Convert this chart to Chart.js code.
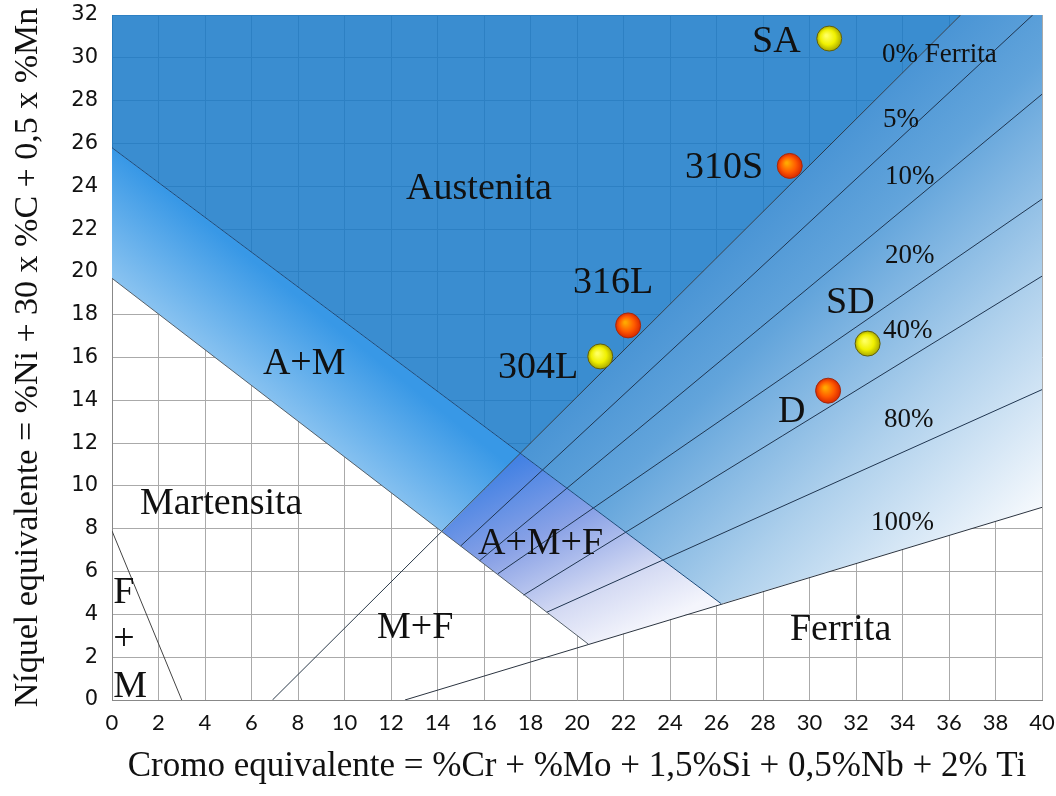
<!DOCTYPE html>
<html>
<head>
<meta charset="utf-8">
<script src="https://cdn.jsdelivr.net/npm/chart.js@4.4.1/dist/chart.umd.min.js"></script>
<style>
  html, body { margin: 0; padding: 0; background: #fff; }
  #wrap { width: 1056px; height: 796px; }
</style>
</head>
<body>
<div id="wrap"><canvas id="myChart" width="1056" height="796"></canvas></div>
<script>
// alloys placed on the diagram
var alloyNames = ['SA', '310S', '316L', '304L', 'SD', 'D'];
var alloyCr = [30.85, 29.15, 22.2, 21.0, 32.5, 30.8];
var alloyNi = [30.9, 24.95, 17.5, 16.05, 16.65, 14.45];
var alloyKind = ['y', 'r', 'r', 'y', 'y', 'r'];

// phase boundaries (Cr eq, Ni eq)
var lineA = [[0, 25.8], [26.2, 4.5]];
var lineM = [[0, 19.7], [20.5, 2.6]];
var lineFM = [[0, 7.9], [3.0, 0]];
var line0 = [[6.9, 0], [36.5, 32]];
var line5 = [[15.0, 7.2], [39.6, 32]];
var line10 = [[15.8, 6.5], [40, 28.3]];
var line20 = [[16.6, 5.9], [40, 23.4]];
var line40 = [[17.7, 4.9], [40, 19.8]];
var line80 = [[18.7, 4.1], [40, 14.5]];
var line100 = [[12.6, 0], [40, 9]];

// zones
var zoneA = [[0, 32], [36.5, 32], [17.56, 11.52], [0, 25.8]];
var zoneAM = [[0, 25.8], [17.56, 11.52], [14.2, 7.85], [0, 19.7]];
var zoneAF = [[17.56, 11.52], [36.5, 32], [40, 32], [40, 9], [26.2, 4.5]];
var zoneAMF = [[14.2, 7.85], [17.56, 11.52], [26.2, 4.5], [20.5, 2.6]];

// text on the diagram: text, x, y (baseline), size
var zoneLabels = [
  ['Austenita', 12.65, 23.41, 38],
  ['A+M', 6.49, 15.23, 38],
  ['Martensita', 1.2, 8.69, 38],
  ['A+M+F', 15.74, 6.82, 38],
  ['M+F', 11.4, 2.9, 38],
  ['Ferrita', 29.16, 2.8, 38],
  ['F', 0.05, 4.53, 38],
  ['+', 0.05, 2.34, 38],
  ['M', 0.05, 0.14, 38],
  ['0% Ferrita', 33.12, 29.81, 27],
  ['5%', 33.16, 26.78, 27],
  ['10%', 33.25, 24.11, 27],
  ['20%', 33.25, 20.42, 27],
  ['40%', 33.16, 16.92, 27],
  ['80%', 33.2, 12.76, 27],
  ['100%', 32.65, 7.94, 27],
  ['SA', 27.53, 30.28, 38],
  ['310S', 24.65, 24.39, 38],
  ['316L', 19.83, 19.02, 38],
  ['304L', 16.6, 15.05, 38],
  ['SD', 30.71, 18.08, 38],
  ['D', 28.65, 13.01, 38]
];

function pts(arr) {
  return arr.map(function (p) { return { x: p[0], y: p[1] }; });
}

function linGrad(chart, p0, p1, stops, fallback) {
  if (!chart.chartArea) return fallback;
  var sx = chart.scales.x, sy = chart.scales.y;
  var g = chart.ctx.createLinearGradient(
    sx.getPixelForValue(p0[0]), sy.getPixelForValue(p0[1]),
    sx.getPixelForValue(p1[0]), sy.getPixelForValue(p1[1]));
  stops.forEach(function (s) { g.addColorStop(s[0], s[1]); });
  return g;
}

function zone(points, bg) {
  return {
    type: 'line', data: pts(points), showLine: true, fill: 'shape',
    backgroundColor: bg, borderWidth: 0, pointRadius: 0, tension: 0
  };
}

function edge(points, color, width) {
  return {
    type: 'line', data: pts(points), showLine: true, fill: false,
    borderColor: color, borderWidth: width || 1, pointRadius: 0, tension: 0
  };
}

var textPlugin = {
  id: 'zoneText',
  afterDatasetsDraw: function (chart) {
    var ctx = chart.ctx, sx = chart.scales.x, sy = chart.scales.y;
    ctx.save();
    ctx.fillStyle = '#111';
    ctx.textAlign = 'left';
    ctx.textBaseline = 'alphabetic';
    zoneLabels.forEach(function (l) {
      ctx.font = l[3] + 'px "Liberation Serif", "Times New Roman", serif';
      ctx.fillText(l[0], sx.getPixelForValue(l[1]), sy.getPixelForValue(l[2]));
    });
    ctx.restore();
  }
};

function dotFill(c) {
  var chart = c.chart;
  if (!chart.chartArea || c.raw === undefined) return '#ff0';
  var x = chart.scales.x.getPixelForValue(c.raw.x);
  var y = chart.scales.y.getPixelForValue(c.raw.y);
  var g = chart.ctx.createRadialGradient(x - 3, y - 3, 1, x, y, 13);
  if (alloyKind[c.dataIndex] === 'y') {
    g.addColorStop(0, '#ffff60');
    g.addColorStop(0.55, '#f0f000');
    g.addColorStop(1, '#a3a300');
  } else {
    g.addColorStop(0, '#ffa800');
    g.addColorStop(0.55, '#ff5a00');
    g.addColorStop(1, '#d62400');
  }
  return g;
}

var ctx = document.getElementById('myChart').getContext('2d');
var myChart = new Chart(ctx, {
  type: 'scatter',
  data: {
    datasets: [
      {
        type: 'scatter',
        label: 'Aleaciones',
        data: alloyCr.map(function (v, i) { return { x: v, y: alloyNi[i] }; }),
        pointRadius: 12.5,
        pointBackgroundColor: dotFill,
        pointBorderColor: function (c) { return alloyKind[c.dataIndex] === 'y' ? '#5e5e10' : '#a02a10'; },
        pointBorderWidth: 1
      },
      edge(lineA, '#1d4a7a', 1),
      edge(lineM, '#55606a', 1),
      edge(lineFM, '#444', 1),
      edge(line0, '#2b3a4a', 1),
      edge(line5, '#1f3550', 1),
      edge(line10, '#1f3550', 1),
      edge(line20, '#1f3550', 1),
      edge(line40, '#1f3550', 1),
      edge(line80, '#1f3550', 1),
      edge(line100, '#2b3440', 1),
      zone(zoneAMF, function (c) {
        return linGrad(c.chart, [17.6, 11.6], [21.5, 2.6],
          [[0, '#3e7fe3'], [0.4, '#8aa2e6'], [0.75, '#d4daf3'], [1, '#f4f5fc']], '#8aa2e6');
      }),
      zone(zoneAF, function (c) {
        return linGrad(c.chart, [12.4, 14.0], [28.5, -3.5],
          [[0, '#2a80cc'], [0.4, '#62a4db'], [0.69, '#aed0ec'], [1, '#f6f9fd']], '#62a4db');
      }),
      zone(zoneAM, function (c) {
        return linGrad(c.chart, [4, 16.36], [6.67, 20.0],
          [[0, '#88c2f0'], [1, '#3898e6']], '#5eaeec');
      }),
      zone(zoneA, 'rgba(23,121,200,0.85)')
    ]
  },
  options: {
    responsive: false,
    animation: false,
    events: [],
    layout: { padding: { top: 15, right: 14, left: 0, bottom: 0 } },
    plugins: {
      legend: { display: false },
      tooltip: { enabled: false }
    },
    scales: {
      x: {
        type: 'linear', min: 0, max: 40,
        afterFit: function (s) { s.height = 96; s.paddingLeft = 0; s.paddingRight = 0; },
        ticks: {
          stepSize: 2, padding: 10, color: '#111',
          font: { family: 'Lato, "Open Sans", sans-serif', size: 22 }
        },
        grid: { color: '#aaaaaa', lineWidth: 1, drawTicks: false },
        border: { display: true, color: '#888' },
        title: {
          display: true,
          text: 'Cromo equivalente = %Cr + %Mo + 1,5%Si + 0,5%Nb + 2% Ti',
          color: '#111',
          padding: { top: 0, bottom: 8 },
          font: { family: '"Liberation Serif", "Times New Roman", serif', size: 35 }
        }
      },
      y: {
        type: 'linear', min: 0, max: 32,
        afterFit: function (s) { s.width = 112; s.paddingTop = 0; s.paddingBottom = 0; },
        ticks: {
          stepSize: 2, padding: 14, color: '#111',
          font: { family: '"DejaVu Sans", Verdana, sans-serif', size: 21 }
        },
        grid: { color: '#aaaaaa', lineWidth: 1, drawTicks: false },
        border: { display: true, color: '#888' },
        title: {
          display: true,
          text: 'Níquel equivalente = %Ni + 30 x %C + 0,5 x %Mn',
          color: '#111',
          padding: { top: 8, bottom: 0 },
          font: { family: '"Liberation Serif", "Times New Roman", serif', size: 34 }
        }
      }
    }
  },
  plugins: [textPlugin]
});
</script>
</body>
</html>
